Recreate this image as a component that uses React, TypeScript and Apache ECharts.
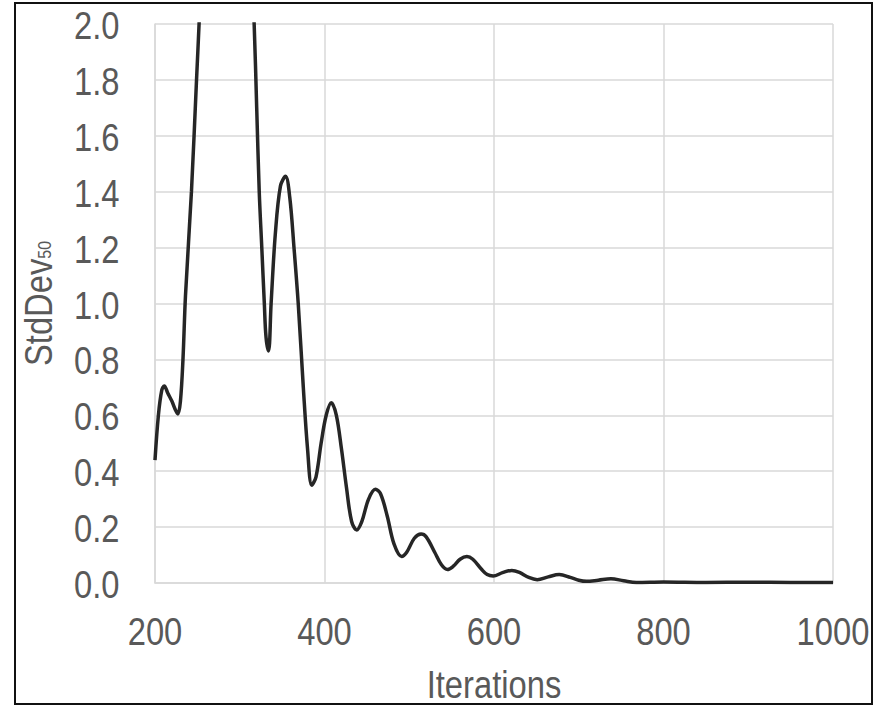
import React, { useEffect, useRef } from "react";
import * as echarts from "echarts";

const iterations = [
  200, 204, 208, 211, 215, 220, 224, 227, 230, 233, 236, 243, 249, 252, 256, 270, 285, 300, 312,
  317, 320, 323, 326, 329, 331, 334, 337, 342, 348, 354, 359, 364, 369, 375, 380, 385, 390, 396,
  402, 408, 414, 420, 426, 432, 438, 444, 452, 460, 466, 474, 482, 491, 497, 506, 514, 520, 530,
  538, 545, 552, 560, 568, 575, 585, 592, 599, 610, 621, 630, 641, 651, 664, 677, 690, 700, 709,
  723, 738, 753, 768, 800, 850, 900, 950, 1000,
];
const stdDev50 = [
  0.44, 0.6, 0.69, 0.705, 0.68, 0.65, 0.62, 0.605, 0.65, 0.8, 1.03, 1.4, 1.8, 2.0, 2.3, 2.8, 3.0,
  2.8, 2.35, 2.0, 1.7, 1.4, 1.2, 1.0, 0.88, 0.83, 1.0, 1.25, 1.42, 1.455, 1.38, 1.2, 1.0, 0.7,
  0.48, 0.35, 0.38, 0.5, 0.6, 0.645, 0.6, 0.48, 0.34, 0.22, 0.19, 0.22, 0.3, 0.335, 0.32, 0.24,
  0.14, 0.095, 0.11, 0.16, 0.175, 0.165, 0.11, 0.065, 0.048, 0.06, 0.085, 0.095, 0.085, 0.05,
  0.03, 0.025, 0.037, 0.045, 0.038, 0.02, 0.012, 0.022, 0.03, 0.02, 0.01, 0.006, 0.01, 0.015,
  0.008, 0.002, 0.004, 0.002, 0.003, 0.002, 0.002,
];

const xTicks = [200, 400, 600, 800, 1000];
const xTickLabels = ["200", "400", "600", "800", "1000"];
const yTicks = [0, 0.2, 0.4, 0.6, 0.8, 1.0, 1.2, 1.4, 1.6, 1.8, 2.0];
const yTickLabels = ["0.0", "0.2", "0.4", "0.6", "0.8", "1.0", "1.2", "1.4", "1.6", "1.8", "2.0"];
const xAxisTitle = "Iterations";
const yAxisTitleMain = "StdDev";
const yAxisTitleSub = "50";

const FONT = "'Liberation Sans', Arial, sans-serif";
const LABEL_COLOR = "#595959";
const GRID_COLOR = "#d9d9d9";
const FS = 39;
const NARROW = 0.84;

export default function App() {
  const ref = useRef<HTMLDivElement>(null);
  useEffect(() => {
    document.body.style.margin = "0";
    const chart = echarts.init(ref.current!, null, { renderer: "svg" });
    chart.setOption({
      animation: false,
      backgroundColor: "#ffffff",
      textStyle: { fontFamily: FONT },
      grid: { left: 155, top: 24, right: 51, bottom: 122 },
      xAxis: {
        type: "value",
        min: 200,
        max: 1000,
        interval: 200,
        axisLine: { show: true, lineStyle: { color: GRID_COLOR, width: 1.5 } },
        axisTick: { show: false },
        axisLabel: { show: false },
        splitLine: { show: true, lineStyle: { color: GRID_COLOR, width: 1.5 } },
      },
      yAxis: {
        type: "value",
        min: 0,
        max: 2,
        interval: 0.2,
        axisLine: { show: true, lineStyle: { color: GRID_COLOR, width: 1.5 } },
        axisTick: { show: false },
        axisLabel: { show: false },
        splitLine: { show: true, lineStyle: { color: GRID_COLOR, width: 1.5 } },
      },
      series: [
        {
          type: "line",
          data: iterations.map((x, i) => [x, stdDev50[i]]),
          smooth: 0.35,
          showSymbol: false,
          clip: true,
          lineStyle: { color: "#262626", width: 3.5 },
        },
      ],
    });

    const px = (x: number, y: number) =>
      chart.convertToPixel({ xAxisIndex: 0, yAxisIndex: 0 }, [x, y]) as number[];
    const [gx0, gy0] = px(200, 0);
    const [gx1, gy1] = px(1000, 2);

    const labelStyle = {
      fontSize: FS,
      fontFamily: FONT,
      fill: LABEL_COLOR,
    };
    const graphics: any[] = [
      {
        type: "rect",
        silent: true,
        shape: { x: 15, y: 3, width: 857, height: 701 },
        style: { fill: "none", stroke: "#111111", lineWidth: 2 },
      },
    ];
    yTicks.forEach((v, i) => {
      const [, yy] = px(200, v);
      graphics.push({
        type: "text",
        silent: true,
        x: gx0 - 35.5,
        y: yy + 1.5,
        scaleX: NARROW,
        style: { ...labelStyle, text: yTickLabels[i], align: "right", verticalAlign: "middle" },
      });
    });
    xTicks.forEach((v, i) => {
      const [xx] = px(v, 0);
      graphics.push({
        type: "text",
        silent: true,
        x: xx,
        y: gy0 + 48,
        scaleX: NARROW,
        style: { ...labelStyle, text: xTickLabels[i], align: "center", verticalAlign: "middle" },
      });
    });
    graphics.push({
      type: "text",
      silent: true,
      x: (gx0 + gx1) / 2,
      y: gy0 + 101,
      scaleX: NARROW,
      style: {
        ...labelStyle,
        text: xAxisTitle,
        lineHeight: 30,
        align: "center",
        verticalAlign: "middle",
      },
    });
    graphics.push({
      type: "text",
      silent: true,
      x: 38,
      y: (gy0 + gy1) / 2,
      rotation: Math.PI / 2,
      scaleX: NARROW,
      style: {
        text: `{a|${yAxisTitleMain}}{b|${yAxisTitleSub}}`,
        align: "center",
        verticalAlign: "middle",
        fontFamily: FONT,
        fill: LABEL_COLOR,
        rich: {
          a: { fontSize: FS, fontFamily: FONT, fill: LABEL_COLOR, verticalAlign: "bottom" },
          b: {
            fontSize: 19,
            fontFamily: FONT,
            fill: LABEL_COLOR,
            verticalAlign: "bottom",
            padding: [0, 0, 4, 0],
          },
        },
      },
    });
    chart.setOption({ graphic: graphics });
    return () => chart.dispose();
  }, []);
  return (
    <div
      ref={ref}
      style={{ position: "absolute", left: 0, top: 0, width: 884, height: 705 }}
    />
  );
}
